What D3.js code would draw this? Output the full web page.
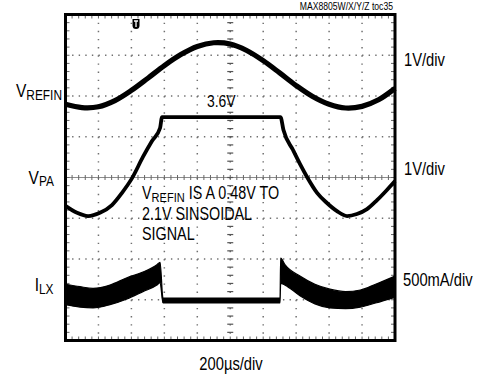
<!DOCTYPE html>
<html><head><meta charset="utf-8">
<script src="https://cdn.jsdelivr.net/npm/d3@7/dist/d3.min.js"></script>
<style>html,body{margin:0;padding:0;background:#fff;overflow:hidden}</style>
</head><body>
<svg id="chart" width="478" height="379"></svg>
<script>
// ---------------- data ----------------
const timeDivUs = 200;                 // 200µs/div, 10 divisions
const timeTicksUs = d3.range(0, 2001, 200);
const voltDivs = d3.range(-4, 5, 1);   // 8 vertical divisions

// VREFIN (1V/div), volts
const refinTimeUs = [0,100,200,300,400,500,600,700,800,900,1000,1100,1200,1300,1400,1500,1600,1700,1800,1900,2000];
const refinVolts  = [0.57,0.49,0.51,0.66,0.91,1.21,1.52,1.79,1.99,2.08,2.05,1.89,1.64,1.34,1.03,0.76,0.57,0.48,0.52,0.68,0.96];

// VPA (1V/div), volts, clipped at 3.6V
const vpaTimeUs = [0,70,137,209,282,343,404,470,525,574,586,900,1305,1323,1381,1423,1466,1527,1587,1648,1709,1769,1830,1891,1951,2000];
const vpaVolts  = [1.42,1.25,1.17,1.25,1.44,1.74,2.10,2.62,3.01,3.33,3.60,3.60,3.60,3.28,2.79,2.45,2.13,1.74,1.49,1.29,1.17,1.22,1.34,1.56,1.81,2.03];

// ILX (500mA/div), amps: envelope of the ripple band
const ilxTimeUs = [0,88,167,270,373,470,555,574,592,900,1302,1306,1332,1423,1514,1605,1700,1790,1882,2000];
const ilxHighA  = [0.69,0.66,0.64,0.68,0.77,0.84,0.93,0.96,0.52,0.52,0.52,1.01,0.93,0.79,0.69,0.63,0.60,0.62,0.69,0.79];
const ilxLowA   = [0.44,0.41,0.40,0.44,0.51,0.60,0.68,0.71,0.46,0.46,0.46,0.70,0.68,0.55,0.45,0.40,0.39,0.41,0.46,0.53];

// channel reference (ground) levels in divisions and scale per division
const channelNames  = ["VREFIN", "VPA", "ILX"];
const channelGround = [1.226, -2.116, -4];
const channelPerDiv = [1, 1, 0.5];
const channelScaleLabels = ["1V/div", "1V/div", "500mA/div"];

// ---------------- drawing ----------------
const svg = d3.select("#chart");
const x = d3.scaleLinear().domain([0, 2000]).range([65.5, 395]);
const yDiv = d3.scaleLinear().domain([-4, 4]).range([340.5, 14.5]);
const chY = (ch) => d3.scaleLinear()
  .domain([0, channelPerDiv[ch]])
  .range([yDiv(channelGround[ch]), yDiv(channelGround[ch] + 1)]);

const x0 = x(0), x1 = x(2000), y0 = yDiv(4), y1 = yDiv(-4);
const divW = x(timeDivUs) - x(0), divH = yDiv(0) - yDiv(1);
const cx = x(1000), cy = yDiv(0);
const grid = svg.append("g");
const DOT = "#707070";

// dotted grid lines
voltDivs.filter(d => d !== 0 && Math.abs(d) < 4).forEach(d => {
  grid.append("line").attr("x1", x0).attr("x2", x1).attr("y1", yDiv(d)).attr("y2", yDiv(d))
    .attr("stroke", DOT).attr("stroke-width", 1.5)
    .attr("stroke-dasharray", `1.4,${(divW/5 - 1.4).toFixed(2)}`);
});
timeTicksUs.filter(t => t !== 1000 && t > 0 && t < 2000).forEach(t => {
  grid.append("line").attr("x1", x(t)).attr("x2", x(t)).attr("y1", y0).attr("y2", y1)
    .attr("stroke", DOT).attr("stroke-width", 1.5)
    .attr("stroke-dasharray", `1.4,${(divH/5 - 1.4).toFixed(2)}`);
});
// center horizontal line with ticks
grid.append("line").attr("x1", x0).attr("x2", x1).attr("y1", cy).attr("y2", cy)
  .attr("stroke", "#8c8c8c").attr("stroke-width", 1);
d3.range(0, 50.01, 1).forEach(i => {
  const xx = x0 + i * divW / 5;
  grid.append("line").attr("x1", xx).attr("x2", xx).attr("y1", cy - 2.5).attr("y2", cy + 2.5)
    .attr("stroke", "#666").attr("stroke-width", 1);
  grid.append("line").attr("x1", xx).attr("x2", xx).attr("y1", y0).attr("y2", y0 + 4)
    .attr("stroke", "#666").attr("stroke-width", 1);
  grid.append("line").attr("x1", xx).attr("x2", xx).attr("y1", y1 - 4).attr("y2", y1)
    .attr("stroke", "#666").attr("stroke-width", 1);
});
// center vertical line with ticks
grid.append("line").attr("x1", cx).attr("x2", cx).attr("y1", y0).attr("y2", y1)
  .attr("stroke", DOT).attr("stroke-width", 1.5)
  .attr("stroke-dasharray", `1.4,${(divH/5 - 1.4).toFixed(2)}`);
d3.range(0, 40.01, 1).forEach(i => {
  const yy = y0 + i * divH / 5;
  grid.append("line").attr("x1", cx - 3).attr("x2", cx + 3).attr("y1", yy).attr("y2", yy)
    .attr("stroke", "#555").attr("stroke-width", 1.2);
  grid.append("line").attr("x1", x0).attr("x2", x0 + 4).attr("y1", yy).attr("y2", yy)
    .attr("stroke", "#666").attr("stroke-width", 1);
  grid.append("line").attr("x1", x1 - 4).attr("x2", x1).attr("y1", yy).attr("y2", yy)
    .attr("stroke", "#666").attr("stroke-width", 1);
});

// ILX band
const yI = chY(2);
const ilxData = ilxTimeUs.map((t, i) => ({ t, hi: ilxHighA[i], lo: ilxLowA[i] }));
svg.append("path").datum(ilxData)
  .attr("d", d3.area().x(d => x(d.t)).y0(d => yI(d.lo)).y1(d => yI(d.hi)).curve(d3.curveMonotoneX))
  .attr("fill", "#000").attr("stroke", "#000").attr("stroke-width", 1.2).attr("stroke-linejoin", "round");

// VPA
const yP = chY(1);
svg.append("path").datum(vpaTimeUs.map((t, i) => ({ t, v: vpaVolts[i] })))
  .attr("d", d3.line().x(d => x(d.t)).y(d => yP(d.v)).curve(d3.curveMonotoneX))
  .attr("fill", "none").attr("stroke", "#000").attr("stroke-width", 3.8).attr("stroke-linejoin", "round");

// VREFIN
const yR = chY(0);
svg.append("path").datum(refinTimeUs.map((t, i) => ({ t, v: refinVolts[i] })))
  .attr("d", d3.line().x(d => x(d.t)).y(d => yR(d.v)).curve(d3.curveCatmullRom))
  .attr("fill", "none").attr("stroke", "#000").attr("stroke-width", 5.2).attr("stroke-linejoin", "round");

// frame
svg.append("rect").attr("x", x0).attr("y", y0).attr("width", x1 - x0).attr("height", y1 - y0)
  .attr("fill", "none").attr("stroke", "#000").attr("stroke-width", 3);

// trigger marker
const tx = x(428);
const trig = svg.append("g").attr("transform", `translate(${tx},19)`);
trig.append("path").attr("d", "M-3.5,0 H3.5 V6.5 A3.5,3.5 0 0 1 -3.5,6.5 Z").attr("fill", "#000");
trig.append("path").attr("d", "M-2,2 H2 M0,2 V8").attr("stroke", "#fff").attr("stroke-width", 1.3);

// ---------------- text ----------------
const narrowOK = (() => {
  const probe = svg.append("text").text("MMMMMMMMMMiiii").style("font-size", "20px");
  probe.style("font-family", "monospace");
  const w1 = probe.node().getComputedTextLength();
  probe.style("font-family", "'Liberation Sans Narrow', monospace");
  const w2 = probe.node().getComputedTextLength();
  probe.remove();
  return Math.abs(w1 - w2) > 0.5;
})();
const FAMILY = narrowOK ? "'Liberation Sans Narrow', 'Arial Narrow', sans-serif" : "'Liberation Sans', Arial, sans-serif";

function label(xp, yp, parts, size, sub, anchor) {
  const t = svg.append("text").attr("x", xp).attr("y", yp)
    .attr("text-anchor", anchor || "start")
    .style("font-family", FAMILY).style("font-size", size + "px").attr("fill", "#000");
  if (!narrowOK) t.attr("transform", `translate(${xp},0) scale(0.82,1) translate(${-xp},0)`);
  let shift = 0;
  parts.forEach(p => {
    const ts = t.append("tspan").text(p.t);
    const want = p.sub ? 2.5 : 0;
    if (want !== shift) { ts.attr("dy", want - shift); shift = want; }
    if (p.sub) ts.style("font-size", sub + "px");
  });
  return t;
}

label(393, 9.5, [{ t: "MAX8805W/X/Y/Z toc35" }], 10.5, 8, "end");
label(62, 97.5, [{ t: "V" }, { t: "REFIN", sub: true }], 19, 14.5, "end");
label(54, 184, [{ t: "V" }, { t: "PA", sub: true }], 19, 14.5, "end");
label(53.5, 291.5, [{ t: "I" }, { t: "LX", sub: true }], 19, 14.5, "end");
label(404, 66.5, [{ t: channelScaleLabels[0] }], 18, 14);
label(404, 175.5, [{ t: channelScaleLabels[1] }], 18, 14);
label(403, 286, [{ t: channelScaleLabels[2] }], 18, 14);
label(231, 370, [{ t: "200µs/div" }], 18, 14, "middle");
label(207, 107, [{ t: "3.6V" }], 17, 12);
label(142, 199.5, [{ t: "V" }, { t: "REFIN", sub: true }, { t: " IS A 0.48V TO" }], 17.5, 13.5);
label(142, 220, [{ t: "2.1V SINSOIDAL" }], 17.5, 13.5);
label(142, 240.5, [{ t: "SIGNAL" }], 17.5, 13.5);
</script>
</body></html>
